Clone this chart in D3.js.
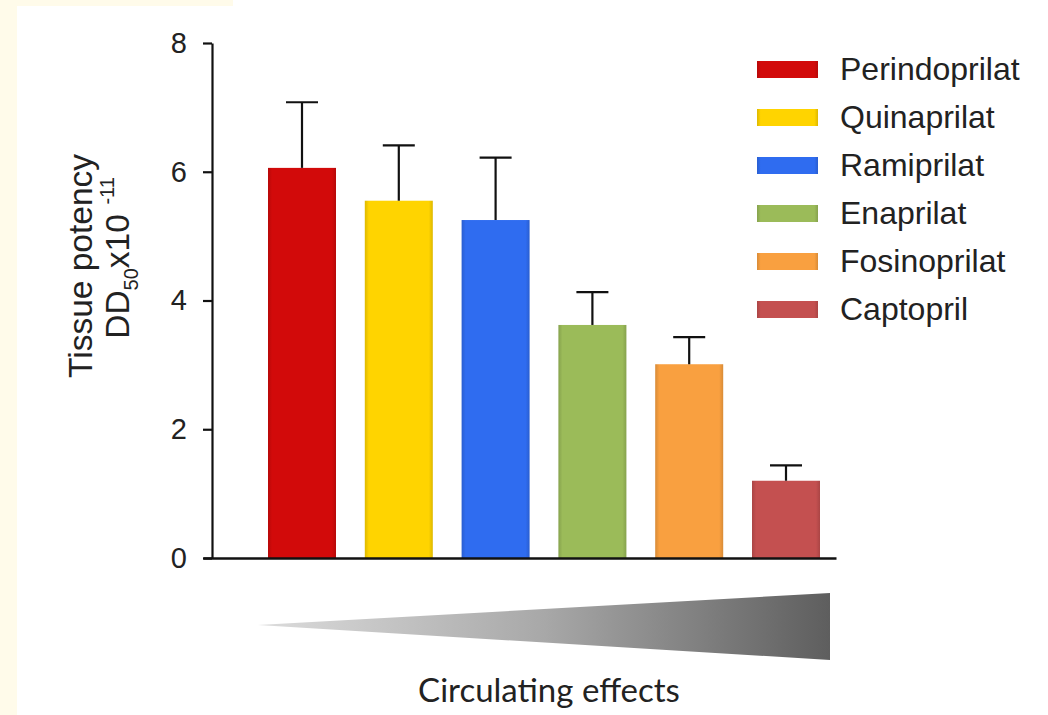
<!DOCTYPE html>
<html><head><meta charset="utf-8">
<script src="https://cdn.jsdelivr.net/npm/d3@7"></script>
<style>body{margin:0;background:#fff}svg{display:block}</style>
</head><body>
<script>
const categories = ["Perindoprilat","Quinaprilat","Ramiprilat","Enaprilat","Fosinoprilat","Captopril"];
const values = [6.06, 5.55, 5.25, 3.62, 3.01, 1.2];
const errors = [1.02, 0.86, 0.97, 0.51, 0.42, 0.24];
const colors = ["#d20a0a","#ffd400","#2f6cf0","#9bbb59","#f9a040","#c45050"];
const yTicks = [0,2,4,6,8];

const W=1048,H=715;
const FONT="Liberation Sans, Arial, sans-serif";
const svg=d3.select("body").append("svg").attr("width",W).attr("height",H);
svg.append("rect").attr("width",W).attr("height",H).attr("fill","#fff");
svg.append("rect").attr("x",0).attr("y",0).attr("width",17).attr("height",H).attr("fill","#fffbea");
svg.append("rect").attr("x",0).attr("y",0).attr("width",233).attr("height",6).attr("fill","#fffbea");

const y=d3.scaleLinear().domain([0,8]).range([558,43]);
const x=d3.scaleBand().domain(categories).range([219.6,868.4]).paddingInner(0.2975).paddingOuter(0.5);

const defs=svg.append("defs");
const tg=defs.append("linearGradient").attr("id","tri").attr("x1","0").attr("x2","1").attr("y1","0").attr("y2","0");
tg.append("stop").attr("offset","0").attr("stop-color","#dcdcdc");
tg.append("stop").attr("offset","0.5").attr("stop-color","#a8a8a8");
tg.append("stop").attr("offset","1").attr("stop-color","#5e5e5e");
colors.forEach((c,i)=>{
  const g=defs.append("linearGradient").attr("id","bg"+i).attr("x1","0").attr("x2","1");
  const cc=d3.color(c);
  g.append("stop").attr("offset","0").attr("stop-color",cc.darker(0.4));
  g.append("stop").attr("offset","0.06").attr("stop-color",c);
  g.append("stop").attr("offset","0.94").attr("stop-color",c);
  g.append("stop").attr("offset","1").attr("stop-color",cc.darker(0.4));
});

// bars
svg.selectAll("rect.bar").data(categories).enter().append("rect").attr("class","bar")
  .attr("x",d=>x(d)).attr("width",x.bandwidth())
  .attr("y",(d,i)=>y(values[i])).attr("height",(d,i)=>y(0)-y(values[i]))
  .attr("fill",(d,i)=>`url(#bg${i})`);

// error bars
const eg=svg.append("g").attr("stroke","#111").attr("stroke-width",2.2);
categories.forEach((d,i)=>{
  const cx=x(d)+x.bandwidth()/2;
  eg.append("line").attr("x1",cx).attr("x2",cx).attr("y1",y(values[i])).attr("y2",y(values[i]+errors[i]));
  eg.append("line").attr("x1",cx-16).attr("x2",cx+16).attr("y1",y(values[i]+errors[i])).attr("y2",y(values[i]+errors[i]));
});

// y axis
const ya=svg.append("g").attr("transform","translate(212,0)")
  .call(d3.axisLeft(y).tickValues(yTicks).tickSize(9).tickPadding(16).tickSizeOuter(0));
ya.select(".domain").attr("stroke","#111").attr("stroke-width",2.2);
ya.selectAll(".tick line").attr("stroke","#111").attr("stroke-width",2.2);
ya.selectAll(".tick text").attr("font-family",FONT).attr("font-size",29).attr("fill","#222");

// x axis line
const xa=svg.append("g").attr("transform","translate(0,558)")
  .call(d3.axisBottom(d3.scaleLinear().domain([0,1]).range([203,836])).tickValues([]).tickSizeOuter(0));
xa.select(".domain").attr("stroke","#111").attr("stroke-width",2.4);

// y label
const yl=svg.append("text").attr("transform","translate(92,266) rotate(-90)").attr("text-anchor","middle")
  .attr("font-family",FONT).attr("font-size",33.5).attr("fill","#222");
yl.text("Tissue potency");
const yl2=svg.append("text").attr("transform","translate(129,258) rotate(-90)").attr("text-anchor","middle")
  .attr("font-family",FONT).attr("font-size",33.5).attr("fill","#222");
yl2.append("tspan").text("DD");
yl2.append("tspan").text("50").attr("font-size",20).attr("dy",9);
yl2.append("tspan").text("x10").attr("dy",-9);
yl2.append("tspan").text(" -11").attr("font-size",20).attr("dy",-15).attr("dx",4);

// legend
const lg=svg.append("g");
categories.forEach((d,i)=>{
  const cy=69+i*48;
  lg.append("rect").attr("x",757).attr("y",cy-8).attr("width",61).attr("height",17).attr("fill",`url(#bg${i})`);
  lg.append("text").attr("x",840).attr("y",cy+11).text(d)
    .attr("font-family",FONT).attr("font-size",32).attr("fill","#222");
});

// triangle
const tx=d3.scaleLinear().domain([0,1]).range([258,830]);
svg.append("path").attr("d",`M${tx(0)},625 L${tx(1)},593 L${tx(1)},660 Z`).attr("fill","url(#tri)");

svg.append("text").attr("x",549).attr("y",702).attr("text-anchor","middle").text("Circulating effects")
  .attr("font-family","Lato, Open Sans, sans-serif").attr("font-size",33).attr("fill","#222");
</script>
</body></html>
